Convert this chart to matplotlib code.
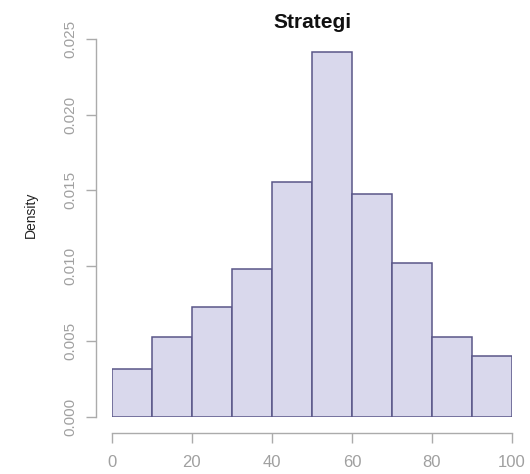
import matplotlib
matplotlib.use("Agg")
import matplotlib.pyplot as plt

plt.rcParams['font.family'] = ['Liberation Sans', 'DejaVu Sans']

bin_edges = [0, 10, 20, 30, 40, 50, 60, 70, 80, 90, 100]
densities = [0.00317, 0.00529, 0.00728, 0.00979, 0.01554,
             0.02416, 0.01475, 0.01019, 0.00527, 0.00405]
x_ticks = [0, 20, 40, 60, 80, 100]
y_ticks = [0.000, 0.005, 0.010, 0.015, 0.020, 0.025]
y_tick_labels = ["0.000", "0.005", "0.010", "0.015", "0.020", "0.025"]
title = "Strategi"
ylabel = "Density"

W, H = 530, 474
fig = plt.figure(figsize=(W / 100, H / 100), dpi=100)
x0, x1 = 111.7, 512.0
y0, y1 = 417.0, 39.0
ax = fig.add_axes([x0 / W, 1 - y0 / H, (x1 - x0) / W, (y0 - y1) / H])

lefts = bin_edges[:-1]
widths = [b - a for a, b in zip(bin_edges[:-1], bin_edges[1:])]
ax.bar(lefts, densities, width=widths, align='edge',
       color='#d9d8ec', edgecolor='#5a5688', linewidth=1.1)

ax.set_xlim(0, 100)
ax.set_ylim(0, 0.025)

gray = '#ababab'
for s in ['top', 'right']:
    ax.spines[s].set_visible(False)
ax.spines['left'].set_position(('outward', 16 * 0.72))
ax.spines['bottom'].set_position(('outward', 16 * 0.72))
for s in ['left', 'bottom']:
    ax.spines[s].set_color(gray)
    ax.spines[s].set_linewidth(1.0)

ax.set_xticks(x_ticks)
ax.set_xticklabels([str(t) for t in x_ticks])
ax.set_yticks(y_ticks)
ax.set_yticklabels(y_tick_labels, rotation=90, va='center')
ax.tick_params(axis='x', colors=gray, labelcolor='#a0a0a0', length=7, width=1.0,
               pad=9, labelsize=12)
ax.tick_params(axis='y', colors=gray, labelcolor='#a0a0a0', length=7, width=1.0,
               pad=6, labelsize=11)

fig.text(31 / W, 1 - 215 / H, ylabel, rotation=90, ha='center', va='center',
         fontsize=10, color='#222222')
fig.text(312 / W, 1 - 22 / H, title, ha='center', va='center',
         fontsize=15, fontweight='bold', color='#111111')

fig.savefig("out.png", dpi=100)
